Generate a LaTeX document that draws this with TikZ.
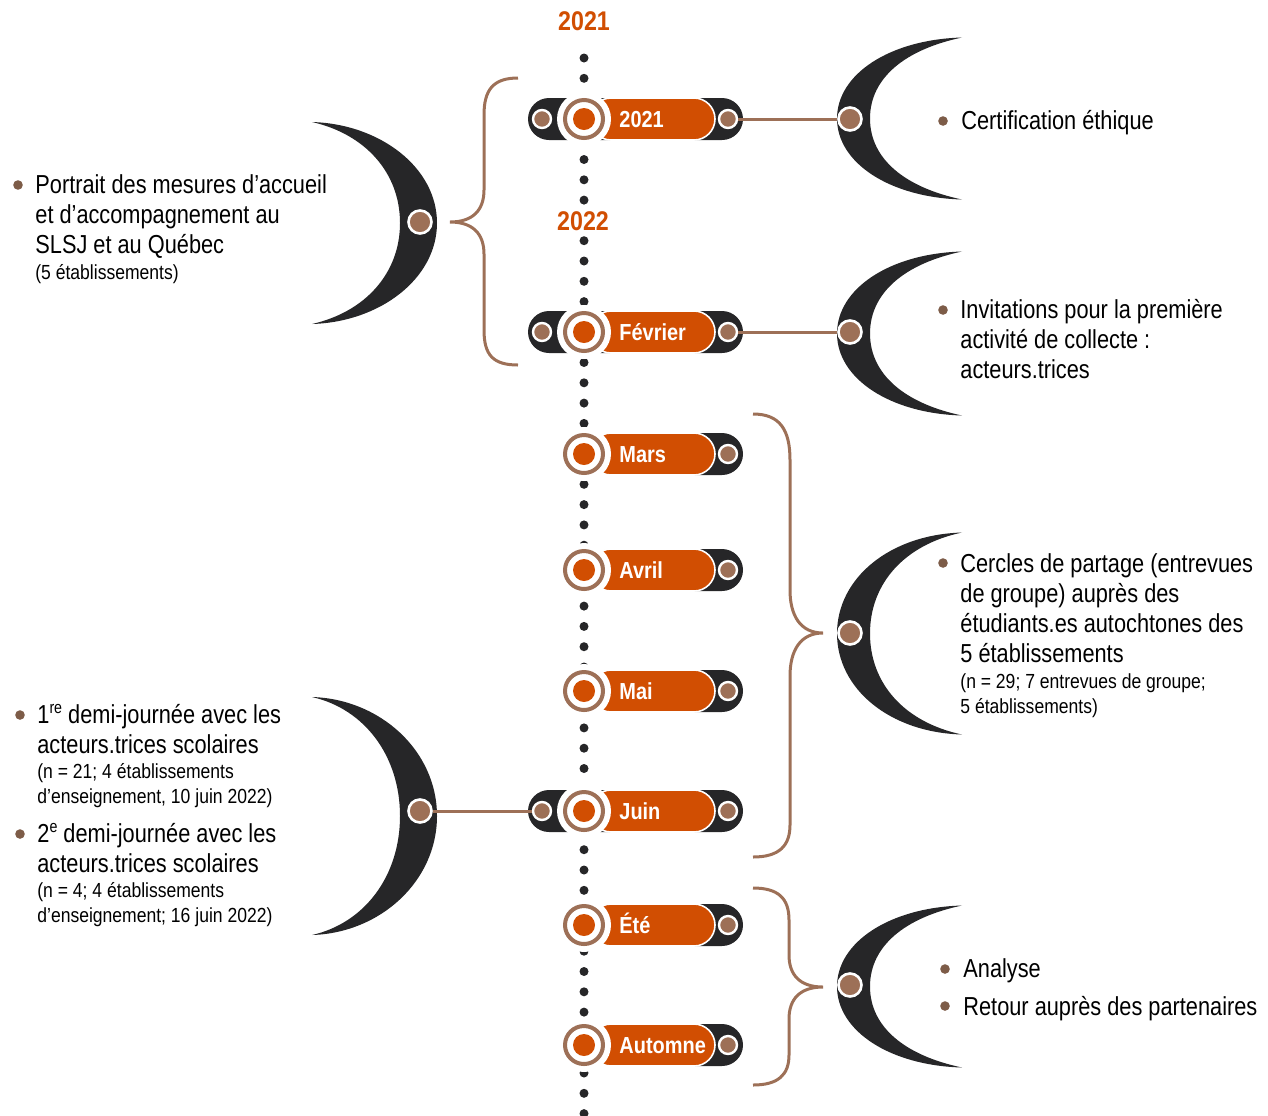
\documentclass[tikz,border=0pt]{standalone}
\usepackage{fontspec}
\setmainfont{Liberation Sans}[FakeStretch=0.86]
\newfontfamily\mainf{Liberation Sans}[FakeStretch=0.837]
\definecolor{orangeC}{RGB}{209,78,2}
\definecolor{darkC}{RGB}{38,38,40}
\definecolor{brownC}{RGB}{157,112,87}
\definecolor{bulletC}{RGB}{125,92,72}
\newcommand\crescR[3]{%
  \fill[darkC] ({#1+112},{#2-#3}) .. controls ({#1+40},{#2-#3+2}) and ({#1-13},{#2-0.55*#3}) .. ({#1-13},#2)
    .. controls ({#1-13},{#2+0.55*#3}) and ({#1+40},{#2+#3-2}) .. ({#1+112},{#2+#3})
    .. controls ({#1+55},{#2+#3-12}) and ({#1+20},{#2+0.5*#3}) .. ({#1+20},#2)
    .. controls ({#1+20},{#2-0.5*#3}) and ({#1+55},{#2-#3+12}) .. cycle;}
\newcommand\crescL[3]{%
  \fill[darkC] ({#1-108},{#2-#3}) .. controls ({#1-40},{#2-#3+2}) and ({#1+17},{#2-0.55*#3}) .. ({#1+17},#2)
    .. controls ({#1+17},{#2+0.55*#3}) and ({#1-40},{#2+#3-2}) .. ({#1-108},{#2+#3})
    .. controls ({#1-55},{#2+#3-12}) and ({#1-20},{#2+0.5*#3}) .. ({#1-20},#2)
    .. controls ({#1-20},{#2-0.5*#3}) and ({#1-55},{#2-#3+12}) .. cycle;}
% #1 name, #2 Y, #3 label, #4 full (1) or short (0)
\newcommand\trow[4]{%
  \ifnum#4=1
    \fill[darkC, rounded corners=10.5pt] (528,{#2-21}) rectangle (743,{#2+21});
  \else
    \fill[darkC, rounded corners=10.5pt] (650,{#2-21}) rectangle (743,{#2+21});
  \fi
  \draw[white, line width=0.8pt, fill=orangeC, rounded corners=10.5pt] (590,{#2-21}) rectangle (715,{#2+21});
  \fill[white] (584,#2) circle[radius=27];
  \node[hub] (#1-hub) at (584,#2) {};
  \fill[orangeC] (#1-hub.center) circle[radius=11];
  \node[plabel] (#1-lab) at (619,{#2+8}) {#3};
  \node[pdot] (#1-r) at (728,#2) {};
  \ifnum#4=1
    \node[pdot] (#1-l) at (542,#2) {};
  \fi}
\newcommand\bul[2]{\fill[bulletC] (#1,#2) circle[radius=4.8];}
\newcommand\sups[1]{\raisebox{0.36em}{\fontsize{8.5}{8.5}\selectfont #1}}
\begin{document}
\begin{tikzpicture}[x=0.5pt,y=-0.5pt,
  brownline/.style={draw=brownC, line width=1.5pt},
  bracestyle/.style={draw=brownC, line width=1.5pt},
  pdot/.style={circle, fill=brownC, draw=white, line width=1.2pt, minimum size=9pt, inner sep=0pt},
  cdot/.style={circle, fill=brownC, draw=white, line width=1.3pt, minimum size=11.5pt, inner sep=0pt},
  hub/.style={circle, draw=brownC, line width=2pt, fill=white, minimum size=19pt, inner sep=0pt},
  main/.style={font=\mainf\fontsize{13}{15}\selectfont, anchor=base west, inner sep=0pt},
  small/.style={font=\fontsize{10.2}{12}\selectfont, anchor=base west, inner sep=0pt},
  plabel/.style={font=\bfseries\fontsize{11.6}{13}\selectfont, text=white, anchor=base west, inner sep=0pt},
  yearlabel/.style={font=\bfseries\fontsize{13.5}{15}\selectfont, text=orangeC, fill=white, inner sep=1pt, anchor=base}]
\useasboundingbox (0,0) rectangle (1268,1115);

% timeline dots
\draw[darkC, line width=4.5pt, line cap=round, dash pattern=on 0pt off 10.15pt] (584,58) -- (584,1118);

% year labels
\node[yearlabel] (y2021) at (584,30) {2021};
\node[yearlabel] (y2022) at (583,230) {2022};

% braces
\draw[bracestyle] (518,78) .. controls (493,78) and (484,90) .. (484,115) -- (484,190)
  .. controls (484,210) and (473,222) .. (450,222) .. controls (473,222) and (484,234) .. (484,254)
  -- (484,330) .. controls (484,355) and (493,365) .. (518,365);
\draw[bracestyle] (753,414) .. controls (780,414) and (790,430) .. (790,460) -- (790,590)
  .. controls (790,615) and (800,633) .. (823,633) .. controls (800,633) and (790,651) .. (790,676)
  -- (790,825) .. controls (790,845) and (780,857) .. (753,857);
\draw[bracestyle] (753,888) .. controls (778,888) and (789,898) .. (789,920) -- (789,955)
  .. controls (789,975) and (800,987) .. (823,987) .. controls (800,987) and (789,999) .. (789,1019)
  -- (789,1055) .. controls (789,1075) and (778,1085) .. (753,1085);

% crescents
\crescR{850}{118.5}{81}
\crescR{850}{333.5}{82}
\crescR{850}{633.5}{101}
\crescR{850}{986.5}{81}
\crescL{420}{223}{101}
\crescL{420}{816}{119}

% timeline rows
\trow{r2021}{119}{2021}{1}
\trow{rfev}{332}{Février}{1}
\trow{rmars}{454}{Mars}{0}
\trow{ravr}{570}{Avril}{0}
\trow{rmai}{691}{Mai}{0}
\trow{rjuin}{811}{Juin}{1}
\trow{rete}{925}{Été}{0}
\trow{raut}{1045}{Automne}{0}

% crescent dots
\node[cdot] (c1) at (850,119) {};
\node[cdot] (c2) at (850,332) {};
\node[cdot] (c3) at (850,633) {};
\node[cdot] (c4) at (850,985) {};
\node[cdot] (c5) at (420,222) {};
\node[cdot] (c6) at (420,811) {};

% connectors
\draw[brownline] (r2021-r) -- (c1);
\draw[brownline] (rfev-r) -- (c2);
\draw[brownline] (rjuin-l) -- (c6);

% texts: right
\bul{943}{121}
\node[main] (t1) at (961,129) {Certification éthique};
\bul{943}{310}
\node[main] (t2a) at (960,318) {Invitations pour la première};
\node[main] (t2b) at (960,348) {activité de collecte :};
\node[main] (t2c) at (960,378) {acteurs.trices};
\bul{943}{563}
\node[main] (t3a) at (960,572) {Cercles de partage (entrevues};
\node[main] (t3b) at (960,602) {de groupe) auprès des};
\node[main] (t3c) at (960,632) {étudiants.es autochtones des};
\node[main] (t3d) at (960,662) {5 établissements};
\node[small] (t3e) at (960,688) {(n = 29; 7 entrevues de groupe;};
\node[small] (t3f) at (960,713) {5 établissements)};
\bul{945}{969}
\node[main] (t4a) at (963,977) {Analyse};
\bul{945}{1006}
\node[main] (t4b) at (963,1015) {Retour auprès des partenaires};

% texts: left
\bul{18}{185}
\node[main] (t5a) at (35,193) {Portrait des mesures d’accueil};
\node[main] (t5b) at (35,223) {et d’accompagnement au};
\node[main] (t5c) at (35,253) {SLSJ et au Québec};
\node[small] (t5d) at (35,279) {(5 établissements)};
\bul{20}{715}
\node[main] (t6a) at (37,723) {1\sups{re} demi-journée avec les};
\node[main] (t6b) at (37,753) {acteurs.trices scolaires};
\node[small] (t6c) at (37,778) {(n = 21; 4 établissements};
\node[small] (t6d) at (37,803) {d’enseignement, 10 juin 2022)};
\bul{20}{834}
\node[main] (t7a) at (37,842) {2\sups{e} demi-journée avec les};
\node[main] (t7b) at (37,872) {acteurs.trices scolaires};
\node[small] (t7c) at (37,897) {(n = 4; 4 établissements};
\node[small] (t7d) at (37,922) {d’enseignement; 16 juin 2022)};
\end{tikzpicture}
\end{document}
